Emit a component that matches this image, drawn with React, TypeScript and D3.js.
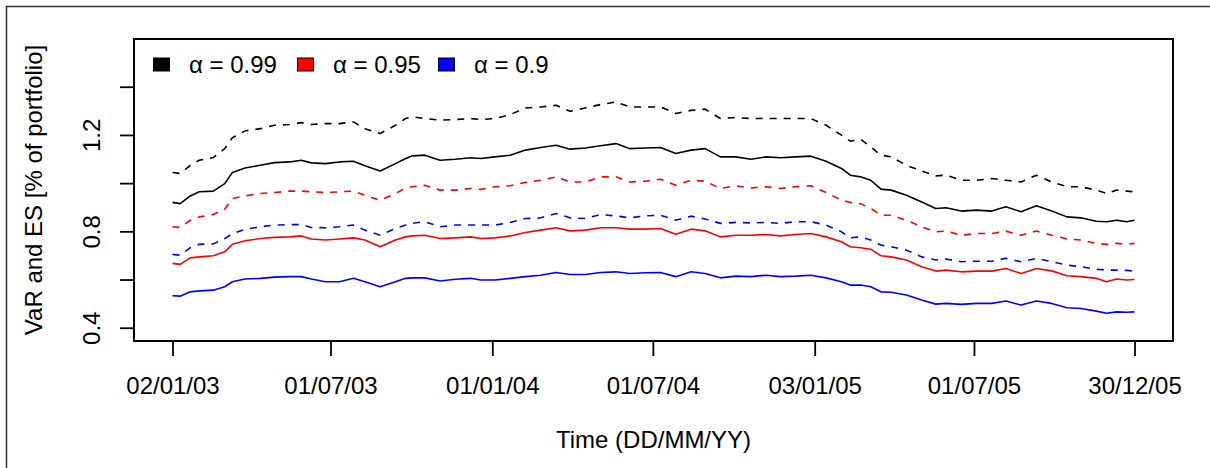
import React, { useEffect, useRef } from 'react';
import * as d3 from 'd3';

// trading-day number of each sampled observation (1 = 02/01/03, 756 = 30/12/05)
const obs = [1, 7, 15, 22, 33, 42, 48, 58, 70, 81, 93, 102, 110, 121, 132, 143, 152,
  164, 176, 184, 189, 199, 211, 223, 235, 243, 254, 266, 278, 290, 302,
  313, 325, 337, 349, 360, 372, 384, 396, 408, 419, 431, 443, 455,
  467, 478, 490, 502, 514, 526, 533, 541, 549, 557, 565, 577, 589, 600, 608,
  620, 632, 644, 655, 667, 679, 691, 703, 714, 726, 734, 742, 750, 756];

const es99 = [1.044, 1.040, 1.074, 1.095, 1.106, 1.143, 1.188, 1.217, 1.226, 1.240, 1.243, 1.251, 1.243, 1.247, 1.247, 1.254, 1.226,
  1.206, 1.240, 1.268, 1.275, 1.268, 1.261, 1.264, 1.268, 1.264, 1.268, 1.284, 1.312, 1.316, 1.323,
  1.298, 1.312, 1.326, 1.337, 1.316, 1.316, 1.316, 1.289, 1.302, 1.307, 1.268, 1.272, 1.268,
  1.268, 1.268, 1.268, 1.268, 1.240, 1.199, 1.174, 1.182, 1.150, 1.116, 1.109, 1.074, 1.050, 1.030, 1.033,
  1.012, 1.012, 1.019, 1.012, 1.005, 1.033, 1.005, 0.985, 0.985, 0.971, 0.957, 0.971, 0.967, 0.964];

const var99 = [0.920, 0.915, 0.947, 0.964, 0.967, 0.998, 1.044, 1.063, 1.074, 1.085, 1.088, 1.095, 1.084, 1.081, 1.088, 1.091, 1.072,
  1.050, 1.081, 1.102, 1.113, 1.116, 1.095, 1.099, 1.105, 1.102, 1.109, 1.116, 1.137, 1.148, 1.157,
  1.141, 1.146, 1.155, 1.164, 1.143, 1.146, 1.148, 1.123, 1.137, 1.143, 1.109, 1.109, 1.099,
  1.109, 1.105, 1.109, 1.112, 1.091, 1.061, 1.033, 1.026, 1.012, 0.975, 0.971, 0.950, 0.922, 0.895, 0.898,
  0.884, 0.888, 0.884, 0.902, 0.881, 0.906, 0.884, 0.860, 0.856, 0.842, 0.840, 0.846, 0.840, 0.846];

const es95 = [0.819, 0.816, 0.846, 0.860, 0.870, 0.892, 0.936, 0.947, 0.957, 0.961, 0.967, 0.967, 0.964, 0.961, 0.964, 0.967, 0.950,
  0.929, 0.957, 0.980, 0.985, 0.991, 0.971, 0.971, 0.978, 0.974, 0.985, 0.989, 1.003, 1.012, 1.026,
  1.005, 1.005, 1.026, 1.026, 1.005, 1.008, 1.016, 0.991, 1.012, 1.008, 0.978, 0.989, 0.980,
  0.985, 0.978, 0.985, 0.989, 0.961, 0.929, 0.920, 0.915, 0.895, 0.867, 0.867, 0.846, 0.819, 0.798, 0.801,
  0.784, 0.791, 0.791, 0.801, 0.784, 0.801, 0.784, 0.768, 0.764, 0.750, 0.746, 0.750, 0.746, 0.750];

const var95 = [0.667, 0.663, 0.690, 0.694, 0.699, 0.715, 0.746, 0.761, 0.770, 0.775, 0.777, 0.781, 0.768, 0.764, 0.768, 0.773, 0.764,
  0.736, 0.764, 0.777, 0.781, 0.784, 0.770, 0.773, 0.777, 0.770, 0.773, 0.781, 0.795, 0.805, 0.815,
  0.802, 0.805, 0.815, 0.815, 0.809, 0.809, 0.812, 0.788, 0.809, 0.802, 0.777, 0.784, 0.784,
  0.787, 0.781, 0.787, 0.791, 0.777, 0.757, 0.736, 0.732, 0.726, 0.699, 0.694, 0.681, 0.653, 0.635, 0.639,
  0.632, 0.635, 0.635, 0.646, 0.625, 0.646, 0.636, 0.616, 0.612, 0.605, 0.591, 0.602, 0.598, 0.600];

const es90 = [0.704, 0.701, 0.732, 0.746, 0.748, 0.770, 0.791, 0.808, 0.819, 0.826, 0.828, 0.828, 0.816, 0.815, 0.819, 0.826, 0.805,
  0.784, 0.812, 0.826, 0.833, 0.840, 0.819, 0.826, 0.826, 0.826, 0.826, 0.837, 0.853, 0.856, 0.874,
  0.856, 0.853, 0.870, 0.864, 0.856, 0.864, 0.867, 0.846, 0.863, 0.851, 0.833, 0.837, 0.835,
  0.837, 0.833, 0.840, 0.840, 0.826, 0.798, 0.773, 0.777, 0.764, 0.743, 0.736, 0.722, 0.694, 0.681, 0.685,
  0.674, 0.676, 0.676, 0.688, 0.674, 0.688, 0.674, 0.660, 0.653, 0.643, 0.639, 0.639, 0.638, 0.635];

const var90 = [0.533, 0.531, 0.549, 0.553, 0.556, 0.570, 0.591, 0.602, 0.605, 0.610, 0.612, 0.612, 0.602, 0.591, 0.591, 0.605, 0.591,
  0.570, 0.591, 0.605, 0.607, 0.607, 0.594, 0.601, 0.605, 0.598, 0.598, 0.605, 0.612, 0.618, 0.629,
  0.621, 0.621, 0.629, 0.632, 0.625, 0.628, 0.629, 0.612, 0.632, 0.625, 0.607, 0.614, 0.612,
  0.618, 0.612, 0.614, 0.618, 0.607, 0.591, 0.577, 0.577, 0.570, 0.549, 0.547, 0.536, 0.515, 0.498, 0.501,
  0.497, 0.501, 0.501, 0.511, 0.494, 0.511, 0.501, 0.483, 0.480, 0.469, 0.460, 0.466, 0.464, 0.466];

const xTickObs = [1, 125, 252, 378, 505, 630, 756];
const xTickLabels = ['02/01/03', '01/07/03', '01/01/04', '01/07/04', '03/01/05', '01/07/05', '30/12/05'];
const yTicks = [0.4, 0.6, 0.8, 1.0, 1.2, 1.4];
const yTickLabels = ['0.4', '', '0.8', '', '1.2', ''];

const legendLabels = ['\u03b1 = 0.99', '\u03b1 = 0.95', '\u03b1 = 0.9'];
const legendColors = ['#000000', '#ff0000', '#0000ff'];

const series = [
  { values: es99, color: '#000000', dashed: true },
  { values: var99, color: '#000000', dashed: false },
  { values: es95, color: '#ff0000', dashed: true },
  { values: var95, color: '#ff0000', dashed: false },
  { values: es90, color: '#0000ff', dashed: true },
  { values: var90, color: '#0000ff', dashed: false },
];

const width = 1210;
const height = 468;
const margin = { left: 134, right: 37, top: 39, bottom: 127 };
const font = '"Liberation Sans", Arial, Helvetica, sans-serif';
const fontSize = '24px';

export default function App() {
  const svgRef = useRef<SVGSVGElement | null>(null);

  useEffect(() => {
    const svg = d3.select(svgRef.current);
    svg.selectAll('*').remove();

    const left = margin.left;
    const right = width - margin.right;
    const top = margin.top;
    const bottom = height - margin.bottom;

    // R pads the data range by 4% on each side
    const pad = (756 - 1) * 0.04;
    const xScale = d3.scaleLinear().domain([1 - pad, 756 + pad]).range([left, right]);
    const yScale = d3.scaleLinear().domain([0.345, 1.598]).range([bottom, top]);

    // outer frame
    svg.append('rect')
      .attr('x', 6.5).attr('y', 6.5)
      .attr('width', width + 20).attr('height', height + 20)
      .attr('fill', 'none').attr('stroke', '#333').attr('stroke-width', 1.5);

    const line = d3.line<number>()
      .x((_, i) => xScale(obs[i]))
      .y((d) => yScale(d));

    svg.append('g').selectAll('path')
      .data(series)
      .enter().append('path')
      .attr('d', (d) => line(d.values))
      .attr('fill', 'none')
      .attr('stroke', (d) => d.color)
      .attr('stroke-width', 1.6)
      .attr('stroke-linejoin', 'round')
      .attr('stroke-dasharray', (d) => (d.dashed ? '7,7' : null));

    // x axis
    const xAxis = d3.axisBottom(xScale)
      .tickValues(xTickObs)
      .tickFormat((_, i) => xTickLabels[i])
      .tickSize(15)
      .tickSizeOuter(0);
    const gx = svg.append('g')
      .attr('transform', `translate(0,${bottom})`)
      .call(xAxis);
    gx.select('.domain').remove();
    gx.selectAll('line').attr('stroke', '#000').attr('stroke-width', 1.8);
    gx.selectAll('text')
      .attr('y', 53).attr('dy', 0)
      .attr('fill', '#000')
      .style('font-family', font).style('font-size', fontSize);

    // y axis
    const yAxis = d3.axisLeft(yScale)
      .tickValues(yTicks)
      .tickFormat((_, i) => yTickLabels[i])
      .tickSize(14)
      .tickSizeOuter(0);
    const gy = svg.append('g')
      .attr('transform', `translate(${left},0)`)
      .call(yAxis);
    gy.select('.domain').remove();
    gy.selectAll('line').attr('stroke', '#000').attr('stroke-width', 1.8);
    gy.selectAll('text')
      .attr('x', 0).attr('dy', 0)
      .attr('transform', 'translate(-34,0) rotate(-90)')
      .attr('text-anchor', 'middle')
      .attr('fill', '#000')
      .style('font-family', font).style('font-size', fontSize);

    // plot box
    svg.append('rect')
      .attr('x', left).attr('y', top)
      .attr('width', right - left).attr('height', bottom - top)
      .attr('fill', 'none').attr('stroke', '#000').attr('stroke-width', 2);

    // axis titles
    svg.append('text')
      .attr('x', (left + right) / 2).attr('y', 448)
      .attr('text-anchor', 'middle')
      .style('font-family', font).style('font-size', fontSize)
      .text('Time (DD/MM/YY)');
    svg.append('text')
      .attr('transform', `translate(42,${(top + bottom) / 2}) rotate(-90)`)
      .attr('text-anchor', 'middle')
      .style('font-family', font).style('font-size', fontSize)
      .text('VaR and ES [% of portfolio]');

    // legend
    const legendX = [153, 297, 438];
    const legend = svg.append('g').selectAll('g')
      .data(legendLabels)
      .enter().append('g')
      .attr('transform', (_, i) => `translate(${legendX[i]},0)`);
    legend.append('rect')
      .attr('x', 0.5).attr('y', 58)
      .attr('width', 16).attr('height', 13)
      .attr('fill', (_, i) => legendColors[i])
      .attr('stroke', '#000').attr('stroke-width', 1);
    legend.append('text')
      .attr('x', 36).attr('y', 72.5)
      .style('font-family', font).style('font-size', fontSize)
      .text((d) => d);
  }, []);

  return (
    <div style={{ position: 'absolute', left: 0, top: 0, width, height, overflow: 'hidden', background: '#fff' }}>
      <svg ref={svgRef} width={width} height={height} />
    </div>
  );
}
